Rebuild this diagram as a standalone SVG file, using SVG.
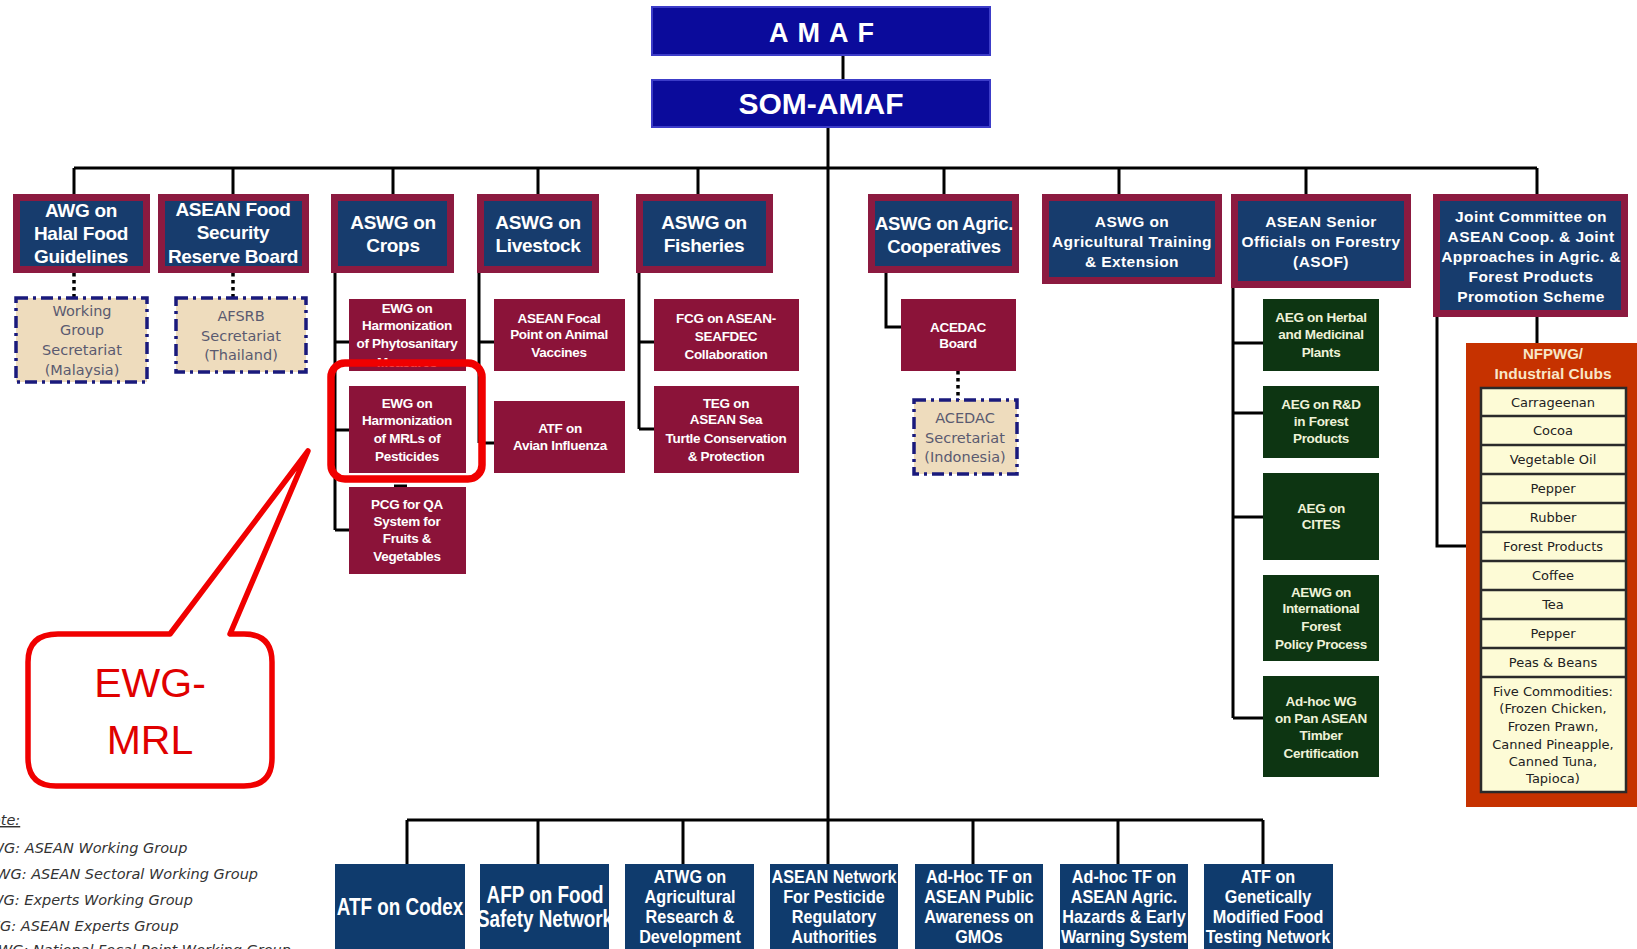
<svg xmlns="http://www.w3.org/2000/svg" width="1637" height="949" viewBox="0 0 1637 949">
<defs>
<style>
.mar{fill:#8c1a40}
.nav{fill:#173c6d}
.sub{fill:#8b1339}
.grn{fill:#0d3512}
.bot{fill:#0f3b6d}
.top{fill:#0b0b9b;stroke:#3c3cc8;stroke-width:2}
.sec{fill:#eedcbd;stroke:#1a1a7c;stroke-width:3.5;stroke-dasharray:12 5 3 5}
.ln{stroke:#000;stroke-width:3;fill:none}
.dt{stroke:#000;stroke-width:3.5;fill:none;stroke-dasharray:3.5 3.5}
text{font-family:"Liberation Sans",Arial,sans-serif}
.tb{font-weight:bold;font-size:19px;fill:#fff;text-anchor:middle;letter-spacing:-0.3px}
.tm{font-weight:bold;font-size:15.5px;fill:#fff;text-anchor:middle;letter-spacing:0.4px}
.ts{font-weight:bold;font-size:13.5px;fill:#fff;text-anchor:middle;letter-spacing:-0.3px}
.tg{font-weight:bold;font-size:13.5px;fill:#eef2d8;text-anchor:middle;letter-spacing:-0.3px}
.tsec{font-family:"DejaVu Sans",Verdana,sans-serif;font-size:14.5px;fill:#5a5a70;text-anchor:middle}
.tr{font-family:"DejaVu Sans",Verdana,sans-serif;font-size:13px;fill:#222;text-anchor:middle}
.tbot{font-weight:bold;font-size:18px;fill:#fff;text-anchor:middle}
.leg{font-family:"DejaVu Sans",Verdana,sans-serif;font-style:italic;font-size:14.5px;fill:#333}
.row{fill:none;stroke:#2a2a2a;stroke-width:2.5}
</style>
<clipPath id="cpPhyto"><rect x="349" y="299" width="117" height="72"/></clipPath>
</defs>
<rect x="0" y="0" width="1637" height="949" fill="#fff"/>

<g id="connectors">
<g class="ln">
<path d="M843 55V80"/>
<path d="M828 127V820"/>
<path d="M74 168H1537"/>
<path d="M74 168V194M233 168V194M393 168V194M538 168V194M698 168V194M944 168V194M1119 168V194M1306 168V194M1537 168V194"/>
<path d="M335 273V530M335 342H349M335 430H349M335 530H349"/>
<path d="M394 486H407"/>
<path d="M479 273V443M479 342H494M479 443H494"/>
<path d="M639 273V429M639 342H654M639 429H654"/>
<path d="M886 273V327H901"/>
<path d="M1233 288V718M1233 343H1263M1233 413H1263M1233 517H1263M1233 718H1263"/>
<path d="M1437 317V546H1466M1537 317V343"/>
<path d="M407 820H1263M407 820V864M538 820V864M683 820V864M828 820V864M973 820V864M1118 820V864M1263 820V864"/>
</g>
<g class="dt">
<path d="M74 273V298M233 273V298M958 371V400"/>
</g>
</g>

<g id="amaf">
<rect class="top" x="652" y="7" width="338" height="48"/>
<text x="826" y="42" style="font-weight:bold;font-size:27px;fill:#fff;text-anchor:middle;letter-spacing:9px">AMAF</text>
</g>
<g id="som-amaf">
<rect class="top" x="652" y="80" width="338" height="47"/>
<text x="821" y="114" style="font-weight:bold;font-size:30px;fill:#fff;text-anchor:middle">SOM-AMAF</text>
</g>

<g id="awg-halal">
<rect class="mar" x="13" y="194" width="137" height="79"/><rect class="nav" x="20" y="201" width="123" height="65"/>
<text class="tb" x="81" y="217">AWG on</text><text class="tb" x="81" y="240">Halal Food</text><text class="tb" x="81" y="263">Guidelines</text>
</g>
<g id="afsrb">
<rect class="mar" x="158" y="194" width="151" height="79"/><rect class="nav" x="165" y="201" width="137" height="65"/>
<text class="tb" x="233" y="216">ASEAN Food</text><text class="tb" x="233" y="239">Security</text><text class="tb" x="233" y="263">Reserve Board</text>
</g>
<g id="aswg-crops">
<rect class="mar" x="331" y="194" width="123" height="79"/><rect class="nav" x="338" y="201" width="109" height="65"/>
<text class="tb" x="393" y="229">ASWG on</text><text class="tb" x="393" y="252">Crops</text>
</g>
<g id="aswg-livestock">
<rect class="mar" x="477" y="194" width="122" height="79"/><rect class="nav" x="484" y="201" width="108" height="65"/>
<text class="tb" x="538" y="229">ASWG on</text><text class="tb" x="538" y="252">Livestock</text>
</g>
<g id="aswg-fisheries">
<rect class="mar" x="636" y="194" width="137" height="79"/><rect class="nav" x="643" y="201" width="123" height="65"/>
<text class="tb" x="704" y="229">ASWG on</text><text class="tb" x="704" y="252">Fisheries</text>
</g>
<g id="aswg-coop">
<rect class="mar" x="868" y="194" width="151" height="79"/><rect class="nav" x="875" y="201" width="137" height="65"/>
<text class="tb" x="944" y="230" style="font-size:18.5px">ASWG on Agric.</text><text class="tb" x="944" y="253" style="font-size:18.5px">Cooperatives</text>
</g>
<g id="aswg-training">
<rect class="mar" x="1042" y="194" width="180" height="90"/><rect class="nav" x="1049" y="201" width="166" height="76"/>
<text class="tm" x="1132" y="227">ASWG on</text><text class="tm" x="1132" y="247">Agricultural Training</text><text class="tm" x="1132" y="267">&amp; Extension</text>
</g>
<g id="asof">
<rect class="mar" x="1231" y="194" width="180" height="94"/><rect class="nav" x="1238" y="201" width="166" height="80"/>
<text class="tm" x="1321" y="227">ASEAN Senior</text><text class="tm" x="1321" y="247">Officials on Forestry</text><text class="tm" x="1321" y="267">(ASOF)</text>
</g>
<g id="joint-committee">
<rect class="mar" x="1433" y="194" width="195" height="123"/><rect class="nav" x="1440" y="201" width="181" height="109"/>
<text class="tm" x="1531" y="222">Joint Committee on</text><text class="tm" x="1531" y="242">ASEAN Coop. &amp; Joint</text><text class="tm" x="1531" y="262">Approaches in Agric. &amp;</text><text class="tm" x="1531" y="282">Forest Products</text><text class="tm" x="1531" y="302">Promotion Scheme</text>
</g>

<g id="wg-secretariat">
<rect class="sec" x="16" y="298" width="131" height="84"/>
<text class="tsec" x="82" y="316">Working</text><text class="tsec" x="82" y="335">Group</text><text class="tsec" x="82" y="355">Secretariat</text><text class="tsec" x="82" y="375">(Malaysia)</text>
</g>
<g id="afsrb-secretariat">
<rect class="sec" x="176" y="298" width="130" height="74"/>
<text class="tsec" x="241" y="321">AFSRB</text><text class="tsec" x="241" y="341">Secretariat</text><text class="tsec" x="241" y="360">(Thailand)</text>
</g>

<g id="ewg-phyto">
<rect class="sub" x="349" y="299" width="117" height="72"/>
<g clip-path="url(#cpPhyto)">
<text class="ts" x="407" y="313">EWG on</text><text class="ts" x="407" y="330">Harmonization</text><text class="ts" x="407" y="348">of Phytosanitary</text><text class="ts" x="407" y="367">Measures</text>
</g>
</g>
<g id="ewg-mrl">
<rect class="sub" x="349" y="386" width="117" height="87"/>
<text class="ts" x="407" y="408">EWG on</text><text class="ts" x="407" y="425">Harmonization</text><text class="ts" x="407" y="443">of MRLs of</text><text class="ts" x="407" y="461">Pesticides</text>
</g>
<g id="pcg-qa">
<rect class="sub" x="349" y="487" width="117" height="87"/>
<text class="ts" x="407" y="509">PCG for QA</text><text class="ts" x="407" y="526">System for</text><text class="ts" x="407" y="543">Fruits &amp;</text><text class="ts" x="407" y="561">Vegetables</text>
</g>
<g id="focal-point-vaccines">
<rect class="sub" x="494" y="299" width="131" height="72"/>
<text class="ts" x="559" y="323">ASEAN Focal</text><text class="ts" x="559" y="339">Point on Animal</text><text class="ts" x="559" y="357">Vaccines</text>
</g>
<g id="atf-avian">
<rect class="sub" x="494" y="401" width="131" height="72"/>
<text class="ts" x="560" y="433">ATF  on</text><text class="ts" x="560" y="450">Avian Influenza</text>
</g>
<g id="fcg-seafdec">
<rect class="sub" x="654" y="299" width="145" height="72"/>
<text class="ts" x="726" y="323">FCG on  ASEAN-</text><text class="ts" x="726" y="341">SEAFDEC</text><text class="ts" x="726" y="359">Collaboration</text>
</g>
<g id="teg-turtle">
<rect class="sub" x="654" y="386" width="145" height="87"/>
<text class="ts" x="726" y="408">TEG on</text><text class="ts" x="726" y="424">ASEAN Sea</text><text class="ts" x="726" y="443">Turtle  Conservation</text><text class="ts" x="726" y="461">&amp; Protection</text>
</g>
<g id="acedac-board">
<rect class="sub" x="901" y="299" width="115" height="72"/>
<text class="ts" x="958" y="332">ACEDAC</text><text class="ts" x="958" y="348">Board</text>
</g>
<g id="acedac-secretariat">
<rect class="sec" x="914" y="400" width="103" height="74"/>
<text class="tsec" x="965" y="423">ACEDAC</text><text class="tsec" x="965" y="443">Secretariat</text><text class="tsec" x="965" y="462">(Indonesia)</text>
</g>

<g id="aeg-herbal">
<rect class="grn" x="1263" y="299" width="116" height="72"/>
<text class="tg" x="1321" y="322">AEG on Herbal</text><text class="tg" x="1321" y="339">and Medicinal</text><text class="tg" x="1321" y="357">Plants</text>
</g>
<g id="aeg-rd">
<rect class="grn" x="1263" y="386" width="116" height="72"/>
<text class="tg" x="1321" y="409">AEG on R&amp;D</text><text class="tg" x="1321" y="426">in Forest</text><text class="tg" x="1321" y="443">Products</text>
</g>
<g id="aeg-cites">
<rect class="grn" x="1263" y="473" width="116" height="87"/>
<text class="tg" x="1321" y="513">AEG on</text><text class="tg" x="1321" y="529">CITES</text>
</g>
<g id="aewg-forest-policy">
<rect class="grn" x="1263" y="575" width="116" height="86"/>
<text class="tg" x="1321" y="597">AEWG  on</text><text class="tg" x="1321" y="613">International</text><text class="tg" x="1321" y="631">Forest</text><text class="tg" x="1321" y="649">Policy Process</text>
</g>
<g id="adhoc-timber">
<rect class="grn" x="1263" y="676" width="116" height="101"/>
<text class="tg" x="1321" y="706">Ad-hoc WG</text><text class="tg" x="1321" y="723">on Pan ASEAN</text><text class="tg" x="1321" y="740">Timber</text><text class="tg" x="1321" y="758">Certification</text>
</g>

<g id="nfpwg">
<rect x="1466" y="343" width="171" height="464" fill="#c63200"/>
<text x="1553" y="359" style="font-weight:bold;font-size:15px;fill:#f8e6c8;text-anchor:middle">NFPWG/</text>
<text x="1553" y="379" style="font-weight:bold;font-size:15.5px;fill:#f8e6c8;text-anchor:middle">Industrial Clubs</text>
<rect x="1481" y="388" width="145" height="404" fill="#fdfbd6"/>
<path class="row" d="M1481 388H1626V792H1481ZM1481 416H1626M1481 445H1626M1481 474H1626M1481 503H1626M1481 532H1626M1481 561H1626M1481 590H1626M1481 619H1626M1481 648H1626M1481 677H1626"/>
<text class="tr" x="1553" y="407">Carrageenan</text>
<text class="tr" x="1553" y="435">Cocoa</text>
<text class="tr" x="1553" y="464">Vegetable Oil</text>
<text class="tr" x="1553" y="493">Pepper</text>
<text class="tr" x="1553" y="522">Rubber</text>
<text class="tr" x="1553" y="551">Forest Products</text>
<text class="tr" x="1553" y="580">Coffee</text>
<text class="tr" x="1553" y="609">Tea</text>
<text class="tr" x="1553" y="638">Pepper</text>
<text class="tr" x="1553" y="667">Peas &amp; Beans</text>
<text class="tr" x="1553" y="696">Five Commodities:</text>
<text class="tr" x="1553" y="713">(Frozen Chicken,</text>
<text class="tr" x="1553" y="731">Frozen Prawn,</text>
<text class="tr" x="1553" y="749">Canned Pineapple,</text>
<text class="tr" x="1553" y="766">Canned Tuna,</text>
<text class="tr" x="1553" y="783">Tapioca)</text>
</g>

<g id="atf-codex">
<rect class="bot" x="335" y="864" width="130" height="90"/>
<text class="tbot" style="font-size:23px" transform="translate(400,915) scale(0.82,1)">ATF on Codex</text>
</g>
<g id="afp-food-safety">
<rect class="bot" x="480" y="864" width="129" height="90"/>
<text class="tbot" style="font-size:23px" transform="translate(545,903) scale(0.82,1)"><tspan x="0">AFP on Food</tspan><tspan x="0" dy="24">Safety Network</tspan></text>
</g>
<g id="atwg-research">
<rect class="bot" x="625" y="864" width="129" height="90"/>
<text class="tbot" transform="translate(690,883) scale(0.9,1)"><tspan x="0">ATWG on</tspan><tspan x="0" dy="20">Agricultural</tspan><tspan x="0" dy="20">Research &amp;</tspan><tspan x="0" dy="20">Development</tspan></text>
</g>
<g id="asean-pesticide-network">
<rect class="bot" x="770" y="864" width="128" height="90"/>
<text class="tbot" transform="translate(834,883) scale(0.9,1)"><tspan x="0">ASEAN Network</tspan><tspan x="0" dy="20">For Pesticide</tspan><tspan x="0" dy="20">Regulatory</tspan><tspan x="0" dy="20">Authorities</tspan></text>
</g>
<g id="adhoc-gmo-awareness">
<rect class="bot" x="915" y="864" width="128" height="90"/>
<text class="tbot" transform="translate(979,883) scale(0.9,1)"><tspan x="0">Ad-Hoc  TF on</tspan><tspan x="0" dy="20">ASEAN Public</tspan><tspan x="0" dy="20">Awareness on</tspan><tspan x="0" dy="20">GMOs</tspan></text>
</g>
<g id="adhoc-hazards">
<rect class="bot" x="1060" y="864" width="128" height="90"/>
<text class="tbot" transform="translate(1124,883) scale(0.9,1)"><tspan x="0">Ad-hoc TF on</tspan><tspan x="0" dy="20">ASEAN Agric.</tspan><tspan x="0" dy="20">Hazards &amp; Early</tspan><tspan x="0" dy="20">Warning System</tspan></text>
</g>
<g id="atf-gm-food">
<rect class="bot" x="1204" y="864" width="129" height="90"/>
<text class="tbot" transform="translate(1268,883) scale(0.9,1)"><tspan x="0">ATF on</tspan><tspan x="0" dy="20">Genetically</tspan><tspan x="0" dy="20">Modified Food</tspan><tspan x="0" dy="20">Testing Network</tspan></text>
</g>

<g id="highlight">
<rect x="331" y="363" width="151" height="116" rx="14" fill="none" stroke="#f00000" stroke-width="7.5"/>
</g>
<g id="callout">
<path d="M58 634L170 634L308 451L230 634L244 634Q272 634 272 662L272 758Q272 786 244 786L56 786Q28 786 28 758L28 662Q28 634 58 634Z" fill="#fff" stroke="#f00000" stroke-width="5.5" stroke-linejoin="round"/>
<text x="150" y="697" style="font-size:41px;fill:#e00000;text-anchor:middle">EWG-</text>
<text x="150" y="754" style="font-size:41px;fill:#e00000;text-anchor:middle">MRL</text>
</g>

<g id="legend">
<text class="leg" x="-19" y="825" style="text-decoration:underline">Note:</text>
<text class="leg" x="-20" y="853">AWG: ASEAN Working Group</text>
<text class="leg" x="-23" y="879">ASWG: ASEAN Sectoral  Working Group</text>
<text class="leg" x="-20" y="905">EWG: Experts Working Group</text>
<text class="leg" x="-19" y="931">AEG: ASEAN Experts Group</text>
<text class="leg" x="-30" y="955">NFPWG: National Focal Point Working Group</text>
</g>
</svg>
